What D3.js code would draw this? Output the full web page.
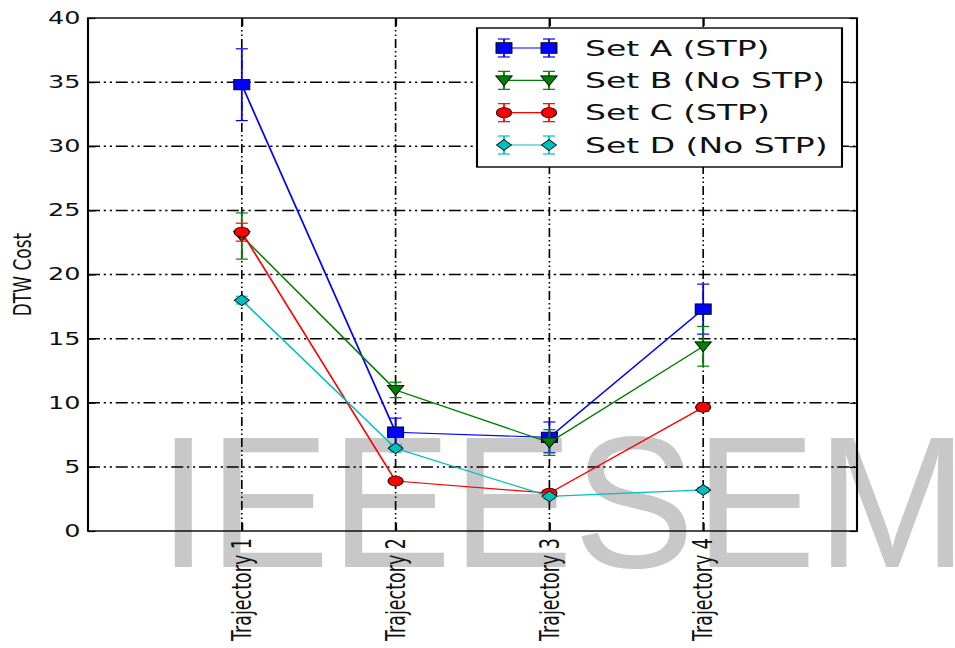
<!DOCTYPE html>
<html lang="en">
<head>
<script src="https://d3js.org/d3.v7.min.js"></script>
<style>
body { margin: 0; background: #fff; }
text { font-family: "DejaVu Sans", sans-serif; }
</style>
</head>
<body>
<svg width="955" height="648"></svg>
<script>
// data
var categories = ["Trajectory 1", "Trajectory 2", "Trajectory 3", "Trajectory 4"];
var seriesNames = ["Set A (STP)", "Set B (No STP)", "Set C (STP)", "Set D (No STP)"];
var setA = [34.8, 7.7, 7.3, 17.3];
var setAErr = [2.8, 1.1, 1.2, 1.95];
var setB = [23.0, 11.0, 6.9, 14.4];
var setBErr = [1.8, 0.6, 1.0, 1.55];
var setC = [23.3, 3.9, 2.95, 9.65];
var setCErr = [0.7, 0.2, 0.2, 0.3];
var setD = [18.0, 6.45, 2.7, 3.2];
var setDErr = [0.3, 0.3, 0.2, 0.2];
var yTicks = [0, 5, 10, 15, 20, 25, 30, 35, 40];

var colors = ["#0000ff", "#008000", "#ff0000", "#00bfbf"];
var shapes = ["square", "tridown", "circle", "diamond"];
var series = [
  { name: seriesNames[0], values: setA, err: setAErr },
  { name: seriesNames[1], values: setB, err: setBErr },
  { name: seriesNames[2], values: setC, err: setCErr },
  { name: seriesNames[3], values: setD, err: setDErr }
];

var svg = d3.select("svg");
var sx = 1.5; // the picture is stretched sideways

// watermark, underneath everything
svg.append("text")
  .attr("x", 158)
  .attr("y", 567)
  .style("font-family", "Liberation Sans, Arial, sans-serif")
  .attr("font-size", 188)
  .attr("textLength", 810)
  .attr("lengthAdjust", "spacingAndGlyphs")
  .attr("fill", "#c8c8c8")
  .text("IEEESEM");

var g = svg.append("g").attr("transform", "scale(" + sx + ",1)");

var pLeft = 88 / sx, pRight = 857 / sx, pTop = 18, pBottom = 531;
var x = d3.scaleLinear().domain([0, 5]).range([pLeft, pRight]);
var y = d3.scaleLinear().domain([0, 40]).range([pBottom, pTop]);

// grid
g.append("g").selectAll("line")
  .data(yTicks.slice(1, -1))
  .enter().append("line")
  .attr("x1", pLeft).attr("x2", pRight)
  .attr("y1", function(d) { return y(d); })
  .attr("y2", function(d) { return y(d); })
  .attr("stroke", "#000")
  .attr("stroke-width", 1.5)
  .attr("stroke-dasharray", "8,2.5,1.5,2.5,1.5,2.5");
g.append("g").selectAll("line")
  .data(categories)
  .enter().append("line")
  .attr("x1", function(d, i) { return x(i + 1); })
  .attr("x2", function(d, i) { return x(i + 1); })
  .attr("y1", pTop).attr("y2", pBottom)
  .attr("stroke", "#000")
  .attr("stroke-width", 1.1)
  .attr("stroke-dasharray", "9,3,1.5,3,1.5,3");

// axes
var yAxis = g.append("g")
  .attr("transform", "translate(" + pLeft + ",0)")
  .call(d3.axisLeft(y).tickValues(yTicks).tickSizeInner(-5).tickSizeOuter(0).tickPadding(5));
yAxis.select(".domain").remove();
yAxis.selectAll("text").attr("font-size", 17).attr("fill", "#111")
  .style("font-family", "DejaVu Sans, sans-serif");
yAxis.selectAll("line").attr("stroke-width", 1.2);

var yAxisR = g.append("g")
  .attr("transform", "translate(" + pRight + ",0)")
  .call(d3.axisRight(y).tickValues(yTicks).tickSizeInner(-5).tickSizeOuter(0).tickFormat(""));
yAxisR.select(".domain").remove();
yAxisR.selectAll("line").attr("stroke-width", 1.2);

var xTicks = categories.map(function(d, i) { return i + 1; });
var xAxis = g.append("g")
  .attr("transform", "translate(0," + pBottom + ")")
  .call(d3.axisBottom(x).tickValues(xTicks).tickSizeInner(-8).tickSizeOuter(0).tickFormat(""));
xAxis.select(".domain").remove();
var xAxisT = g.append("g")
  .attr("transform", "translate(0," + pTop + ")")
  .call(d3.axisTop(x).tickValues(xTicks).tickSizeInner(-8).tickSizeOuter(0).tickFormat(""));
xAxisT.select(".domain").remove();

g.selectAll(".xlab")
  .data(categories)
  .enter().append("text")
  .attr("class", "xlab")
  .attr("transform", function(d, i) { return "translate(" + x(i + 1) + "," + (pBottom + 7) + ") rotate(-90)"; })
  .attr("dy", "0.35em")
  .attr("text-anchor", "end")
  .attr("font-size", 17.5)
  .attr("fill", "#111")
  .text(function(d) { return d; });

g.append("text")
  .attr("transform", "translate(" + (22 / sx) + "," + ((pTop + pBottom) / 2) + ") rotate(-90)")
  .attr("dy", "0.35em")
  .attr("text-anchor", "middle")
  .attr("font-size", 17)
  .attr("fill", "#111")
  .text("DTW Cost");

// frame
g.append("rect")
  .attr("x", pLeft).attr("y", pTop)
  .attr("width", pRight - pLeft).attr("height", pBottom - pTop)
  .attr("fill", "none")
  .attr("stroke", "#000")
  .attr("stroke-width", 1.4);

function markerPath(shape) {
  if (shape === "square") return "M-5.3,-5.3H5.3V5.3H-5.3Z";
  if (shape === "tridown") return "M-5.5,-4.5H5.5L0,5.5Z";
  if (shape === "diamond") return "M0,-5.5L5,0L0,5.5L-5,0Z";
  return d3.symbol().type(d3.symbolCircle).size(80)();
}

function drawSeries(parent, s, k) {
  var c = colors[k];
  var line = d3.line()
    .x(function(d, i) { return x(i + 1); })
    .y(function(d) { return y(d); });
  var sg = parent.append("g");
  sg.append("path")
    .attr("d", line(s.values))
    .attr("fill", "none")
    .attr("stroke", c)
    .attr("stroke-width", 1.2);
  var eb = sg.selectAll(".eb").data(s.values).enter().append("g");
  eb.append("line")
    .attr("x1", function(d, i) { return x(i + 1); })
    .attr("x2", function(d, i) { return x(i + 1); })
    .attr("y1", function(d, i) { return y(d + s.err[i]); })
    .attr("y2", function(d, i) { return y(d - s.err[i]); })
    .attr("stroke", c).attr("stroke-width", 1.2);
  [1, -1].forEach(function(sgn) {
    eb.append("line")
      .attr("x1", function(d, i) { return x(i + 1) - 4; })
      .attr("x2", function(d, i) { return x(i + 1) + 4; })
      .attr("y1", function(d, i) { return y(d + sgn * s.err[i]); })
      .attr("y2", function(d, i) { return y(d + sgn * s.err[i]); })
      .attr("stroke", c).attr("stroke-width", 1.2);
  });
  sg.selectAll(".mk").data(s.values).enter().append("path")
    .attr("d", markerPath(shapes[k]))
    .attr("transform", function(d, i) { return "translate(" + x(i + 1) + "," + y(d) + ")"; })
    .attr("fill", c)
    .attr("stroke", "#000")
    .attr("stroke-width", 0.7);
}

series.forEach(function(s, k) { drawSeries(g, s, k); });

// legend
var lg = g.append("g");
lg.append("rect")
  .attr("x", 477 / sx).attr("y", 28)
  .attr("width", (842 - 477) / sx).attr("height", 139)
  .attr("fill", "#fff")
  .attr("stroke", "#000")
  .attr("stroke-width", 1.4);
var rowY = d3.scalePoint().domain(seriesNames).range([48, 145]);
var lx1 = 504 / sx, lx2 = 549 / sx;
series.forEach(function(s, k) {
  var ry = rowY(s.name), c = colors[k];
  lg.append("line").attr("x1", lx1).attr("x2", lx2).attr("y1", ry).attr("y2", ry)
    .attr("stroke", c).attr("stroke-width", 1.2);
  [lx1, lx2].forEach(function(px) {
    lg.append("line").attr("x1", px).attr("x2", px).attr("y1", ry - 9).attr("y2", ry + 9)
      .attr("stroke", c).attr("stroke-width", 1.2);
    lg.append("line").attr("x1", px - 4).attr("x2", px + 4).attr("y1", ry - 9).attr("y2", ry - 9)
      .attr("stroke", c).attr("stroke-width", 1.2);
    lg.append("line").attr("x1", px - 4).attr("x2", px + 4).attr("y1", ry + 9).attr("y2", ry + 9)
      .attr("stroke", c).attr("stroke-width", 1.2);
    lg.append("path").attr("d", markerPath(shapes[k]))
      .attr("transform", "translate(" + px + "," + ry + ")")
      .attr("fill", c).attr("stroke", "#000").attr("stroke-width", 0.7);
  });
  lg.append("text")
    .attr("x", 585 / sx).attr("y", ry)
    .attr("dy", "0.35em")
    .attr("font-size", 22)
    .attr("fill", "#111")
    .text(s.name);
});
</script>
</body>
</html>
